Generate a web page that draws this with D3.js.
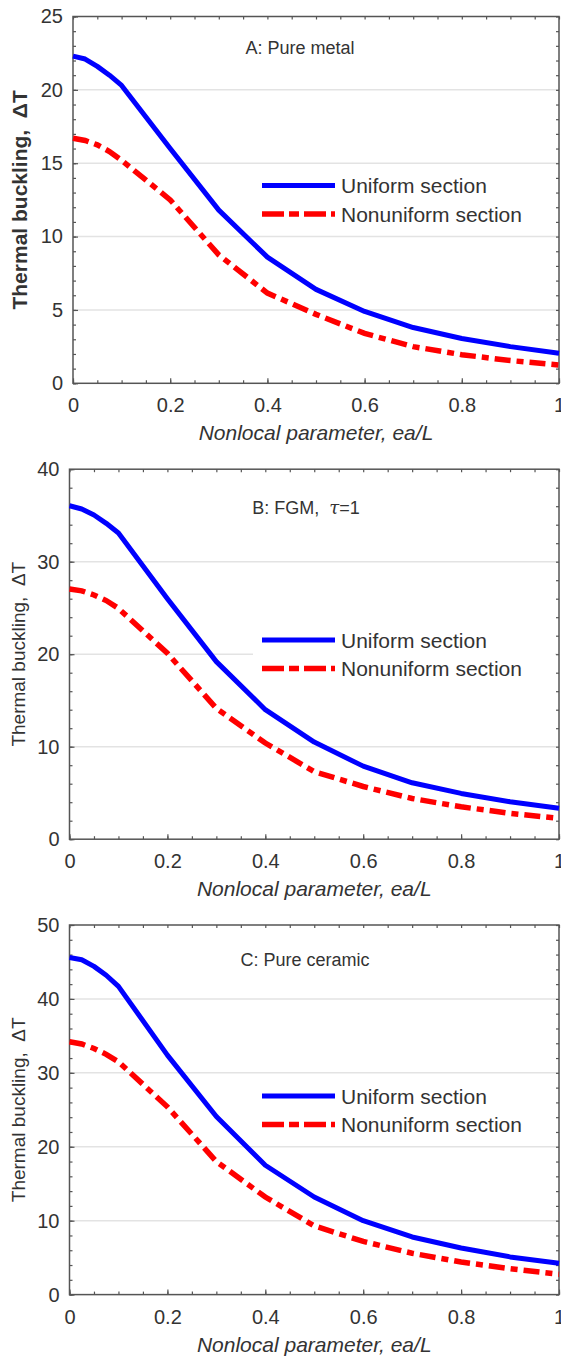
<!DOCTYPE html>
<html lang="en">
<head>
    <meta charset="UTF-8">
    <title>Thermal buckling vs nonlocal parameter</title>
    <script src="https://d3js.org/d3.v7.min.js"></script>
    <style>
        body{
            margin: 0;
            background: #fff;
        }
        svg text{
            font-family: Arial, "Liberation Sans", sans-serif;
            fill: #333;
        }
    </style>
</head>
<body>
<svg id="canvas" width="561" height="1358"></svg>

<script>
    // x values (nonlocal parameter ea/L)
    const eaL = [0, 0.025, 0.05, 0.075, 0.1, 0.2, 0.3, 0.4, 0.5, 0.6, 0.7, 0.8, 0.9, 1.0];

    // A: pure metal
    const metalUniform    = [22.3, 22.1, 21.6, 21.0, 20.3, 16.0, 11.8, 8.6, 6.4, 4.9, 3.8, 3.05, 2.5, 2.05];
    const metalNonuniform = [16.7, 16.55, 16.25, 15.8, 15.2, 12.5, 8.75, 6.15, 4.7, 3.4, 2.5, 1.95, 1.55, 1.25];
    // B: FGM, tau = 1
    const fgmUniform      = [36.05, 35.7, 35.05, 34.15, 33.1, 26.0, 19.2, 14.0, 10.5, 7.9, 6.1, 4.95, 4.05, 3.35];
    const fgmNonuniform   = [27.05, 26.85, 26.4, 25.8, 24.95, 20.1, 14.15, 10.4, 7.3, 5.7, 4.4, 3.5, 2.8, 2.25];
    // C: pure ceramic
    const ceramicUniform    = [45.6, 45.3, 44.4, 43.2, 41.7, 32.4, 24.1, 17.5, 13.2, 10.0, 7.8, 6.3, 5.1, 4.25];
    const ceramicNonuniform = [34.2, 33.9, 33.3, 32.5, 31.5, 25.4, 18.0, 13.2, 9.3, 7.2, 5.6, 4.4, 3.5, 2.75];

    const xTicks = [0, 0.2, 0.4, 0.6, 0.8, 1];
    const yTicksA = [0, 5, 10, 15, 20, 25];
    const yTicksB = [0, 10, 20, 30, 40];
    const yTicksC = [0, 10, 20, 30, 40, 50];

    const seriesNames = ["Uniform section", "Nonuniform section"];
    const xTitle = "Nonlocal parameter, ea/L";

    const blue = "#0000ff";
    const red = "#ff0000";

    const svg = d3.select("#canvas");

    // panel geometry (pixels)
    const panels = [
        {title: "A: Pure metal", uni: metalUniform, non: metalNonuniform, yTicks: yTicksA, yMax: 25, yMinor: 1,
         left: 73, top: 16.5, bottom: 383.3, titleX: 300, titleY: 54, legendY: 185.5, bold: true},
        {title: "B: FGM,", tau: true, uni: fgmUniform, non: fgmNonuniform, yTicks: yTicksB, yMax: 40, yMinor: 2,
         left: 69.5, top: 469.2, bottom: 839.2, titleX: 306, titleY: 514, legendY: 640, bold: false},
        {title: "C: Pure ceramic", uni: ceramicUniform, non: ceramicNonuniform, yTicks: yTicksC, yMax: 50, yMinor: 2,
         left: 69.5, top: 925, bottom: 1294.6, titleX: 305, titleY: 966, legendY: 1096, bold: false}
    ];
    const right = 559;

    panels.forEach(drawPanel);

    function drawPanel(p)
    {
        const x = d3.scaleLinear().domain([0, 1]).range([p.left, right]);
        const y = d3.scaleLinear().domain([0, p.yMax]).range([p.bottom, p.top]);
        const g = svg.append("g");

        // horizontal grid lines
        g.append("g")
            .selectAll("line")
            .data(p.yTicks.filter(d => d > 0 && d < p.yMax))
            .enter()
            .append("line")
            .attr("x1", p.left).attr("x2", right)
            .attr("y1", d => y(d)).attr("y2", d => y(d))
            .attr("stroke", "#e3e3e3")
            .attr("stroke-width", 1.5);

        const minorX = d3.range(0, 1.0001, 0.05);
        const minorY = d3.range(0, p.yMax + 0.0001, p.yMinor);

        // [axis, transform, major?, label padding]
        const axes = [
            [d3.axisBottom(x).tickValues(xTicks).tickFormat(d3.format("")), `translate(0,${p.bottom})`, true, 15],
            [d3.axisBottom(x).tickValues(minorX).tickFormat(""), `translate(0,${p.bottom})`, false, 0],
            [d3.axisTop(x).tickValues(minorX).tickFormat(""), `translate(0,${p.top})`, false, 0],
            [d3.axisLeft(y).tickValues(p.yTicks), `translate(${p.left},0)`, true, 10],
            [d3.axisLeft(y).tickValues(minorY).tickFormat(""), `translate(${p.left},0)`, false, 0],
            [d3.axisRight(y).tickValues(minorY).tickFormat(""), `translate(${right},0)`, false, 0]
        ];
        axes.forEach(([ax, tr, major, pad]) => {
            ax.tickSizeOuter(0).tickSize(major ? -5 : -3).tickPadding(pad);
            const a = g.append("g").attr("transform", tr).call(ax);
            a.selectAll("path").remove();
            a.selectAll("line").attr("stroke", "#555").attr("stroke-width", 1.2);
            a.selectAll("text")
                .attr("font-size", 20)
                .attr("fill", "#3a3a3a")
                .attr("font-family", "Arial, 'Liberation Sans', sans-serif");
        });

        // frame
        g.append("rect")
            .attr("x", p.left).attr("y", p.top)
            .attr("width", right - p.left).attr("height", p.bottom - p.top)
            .attr("fill", "none")
            .attr("stroke", "#555")
            .attr("stroke-width", 1.5);

        // curves
        const line = d3.line()
            .x((d, i) => x(eaL[i]))
            .y(d => y(d));

        g.append("path")
            .attr("d", line(p.uni))
            .attr("fill", "none")
            .attr("stroke", blue)
            .attr("stroke-width", 5)
            .attr("stroke-linejoin", "round");

        g.append("path")
            .attr("d", line(p.non))
            .attr("fill", "none")
            .attr("stroke", red)
            .attr("stroke-width", 5.5)
            .attr("stroke-dasharray", "16,6,7,6");

        // legend
        const lg = g.append("g");
        lg.append("rect")
            .attr("x", 253).attr("y", p.legendY - 18)
            .attr("width", 302).attr("height", 64)
            .attr("fill", "#fff");
        seriesNames.forEach((name, i) => {
            const ly = p.legendY + i * 28.5;
            lg.append("line")
                .attr("x1", 262).attr("x2", 335)
                .attr("y1", ly).attr("y2", ly)
                .attr("stroke", i === 0 ? blue : red)
                .attr("stroke-width", i === 0 ? 5 : 5.5)
                .attr("stroke-dasharray", i === 0 ? null : "22,5,10,5");
            lg.append("text")
                .attr("x", 341).attr("y", ly + 7.5)
                .attr("font-size", 21)
                .attr("fill", "#222")
                .text(name);
        });

        // panel title
        const t = g.append("text")
            .attr("x", p.titleX).attr("y", p.titleY)
            .attr("text-anchor", "middle")
            .attr("font-size", 18)
            .attr("fill", "#222")
            .text(p.title);
        if (p.tau) {
            t.append("tspan").text("\u00a0\u00a0");
            t.append("tspan")
                .attr("font-family", "'DejaVu Serif', serif")
                .attr("font-style", "italic")
                .text("\u03c4");
            t.append("tspan").text("=1");
        }

        // x axis title
        g.append("text")
            .attr("x", (p.left + right) / 2).attr("y", p.bottom + 57)
            .attr("text-anchor", "middle")
            .attr("font-size", 21)
            .attr("font-style", "italic")
            .attr("fill", "#333")
            .text(xTitle);

        // y axis title
        g.append("text")
            .attr("transform", `translate(${p.bold ? 27 : 25},${(p.top + p.bottom) / 2}) rotate(-90)`)
            .attr("text-anchor", "middle")
            .attr("font-size", p.bold ? 21 : 19)
            .attr("font-weight", p.bold ? "bold" : "normal")
            .attr("fill", "#222")
            .text("Thermal buckling,\u00a0\u00a0\u0394T");
    }
</script>
</body>
</html>
